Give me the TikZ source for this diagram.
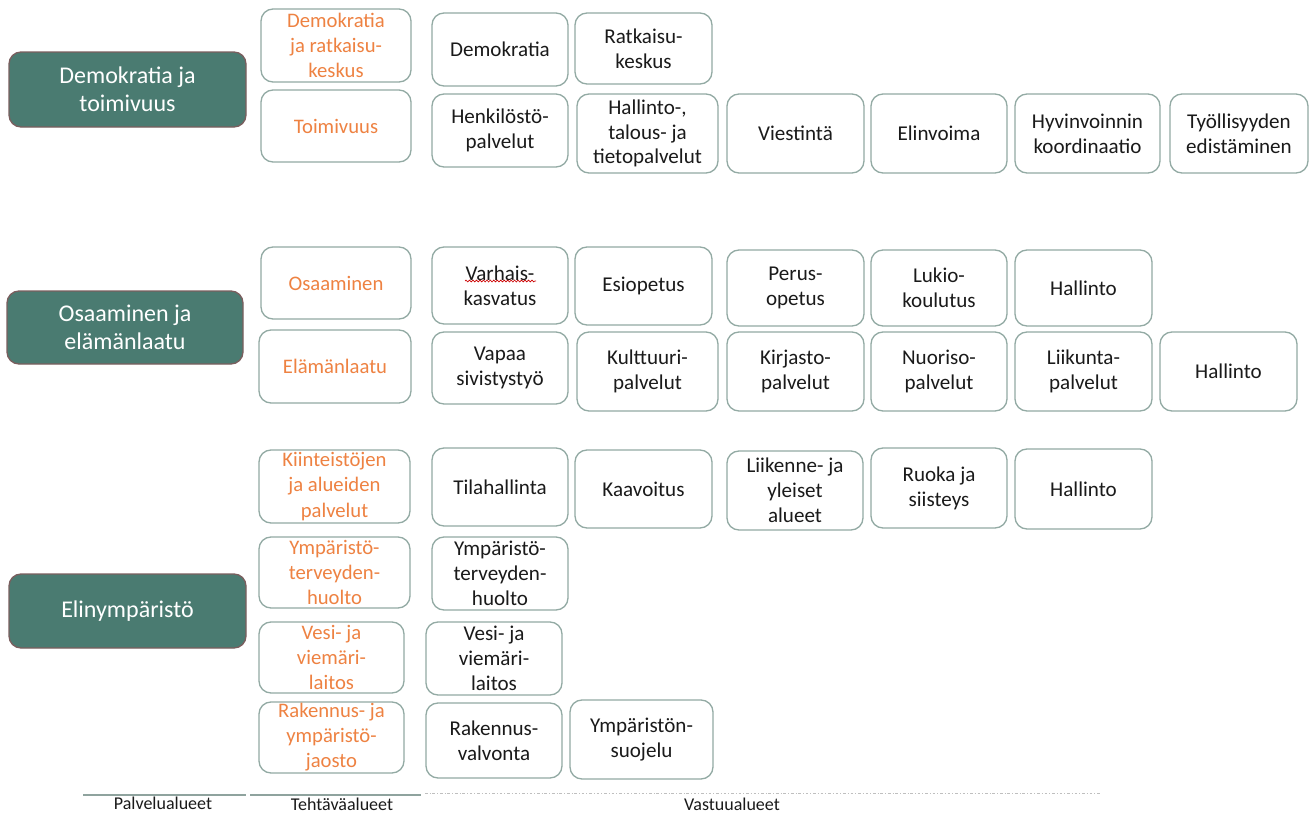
\documentclass[tikz,border=0pt]{standalone}
\usepackage{fontspec}
\setmainfont{Carlito}
\usetikzlibrary{decorations.pathmorphing}
\definecolor{dteal}{HTML}{4A7B71}
\definecolor{dborder}{HTML}{7A5E5E}
\definecolor{bline}{HTML}{93AAA4}
\definecolor{orng}{HTML}{EE8242}
\definecolor{ktext}{HTML}{1A1A1A}
\definecolor{axisline}{HTML}{8FA39E}
\tikzset{
  base/.style={rectangle, rounded corners=9pt, inner sep=0pt, outer sep=0pt},
  dbox/.style={base, fill=dteal, draw=dborder, line width=1pt},
  obox/.style={base, draw=bline, line width=1pt, fill=white},
  kbox/.style={base, draw=bline, line width=1pt, fill=white},
  dbox text/.style={text=white, font=\fontsize{18}{21}\selectfont, align=center, inner sep=0pt},
  obox text/.style={text=orng, font=\fontsize{15.5}{18.8}\selectfont, align=center, inner sep=0pt},
  kbox text/.style={text=ktext, font=\fontsize{15.8}{18.6}\selectfont, align=center, inner sep=0pt},
  axis label/.style={text=ktext, font=\fontsize{13.5}{16}\selectfont, inner sep=0pt},
  axis solid/.style={draw=axisline, line width=1pt},
  axis dotted/.style={draw=black!25, line width=0.6pt, dash pattern=on 2pt off 1.5pt on 0.6pt off 1.5pt},
}
\newcommand\bx[7]{%
  \pgfmathsetmacro\myBW{(#5-#3)*0.75}%
  \pgfmathsetmacro\myBH{(#6-#4)*0.75}%
  \node[#1, minimum width=\myBW pt, minimum height=\myBH pt] (#2) at ({(#3+#5)/2},{(#4+#6)/2}) {};
  \node[#1 text] (#2-t) at (#2.center) {#7};
}
\begin{document}
\begin{tikzpicture}[x=0.75pt,y=-0.75pt]
\fill[white] (0,0) rectangle (1315,814);
\useasboundingbox (0,0) rectangle (1315,814);

% Palvelualueet
\bx{dbox}{p1}{9}{52}{246}{127}{Demokratia ja\\toimivuus}
\bx{dbox}{p2}{7}{291}{243}{364}{Osaaminen ja\\elämänlaatu}
\bx{dbox}{p3}{9}{574}{246}{648}{Elinympäristö}

% Tehtäväalueet
\bx{obox}{t1}{261}{9}{411}{82}{Demokratia\\ja ratkaisu-\\keskus}
\bx{obox}{t2}{261}{90}{411}{162}{Toimivuus}
\bx{obox}{t3}{261}{247}{411}{319}{Osaaminen}
\bx{obox}{t4}{259}{330}{411}{403}{Elämänlaatu}
\bx{obox}{t5}{259}{450}{410}{523}{Kiinteistöjen\\ja alueiden\\palvelut}
\bx{obox}{t6}{259}{537}{410}{608}{Ympäristö-\\terveyden-\\huolto}
\bx{obox}{t7}{259}{622}{404}{693}{Vesi- ja\\viemäri-\\laitos}
\bx{obox}{t8}{259}{702}{404}{773}{Rakennus- ja\\ympäristö-\\jaosto}

% Vastuualueet
\bx{kbox}{v1}{432}{13}{568}{86}{Demokratia}
\bx{kbox}{v2}{575}{13}{712}{84}{Ratkaisu-\\keskus}
\bx{kbox}{v3}{432}{94}{568}{167}{Henkilöstö-\\palvelut}
\bx{kbox}{v4}{577}{94}{718}{173}{Hallinto-,\\talous- ja\\tietopalvelut}
\bx{kbox}{v5}{727}{94}{864}{173}{Viestintä}
\bx{kbox}{v6}{871}{94}{1007}{173}{Elinvoima}
\bx{kbox}{v7}{1015}{94}{1160}{173}{Hyvinvoinnin\\koordinaatio}
\bx{kbox}{v8}{1170}{94}{1308}{173}{Työllisyyden\\edistäminen}

\bx{kbox}{v9}{432}{247}{568}{324}{Varhais-\\kasvatus}
\bx{kbox}{v10}{575}{247}{712}{325}{Esiopetus}
\bx{kbox}{v11}{727}{250}{864}{326}{Perus-\\opetus}
\bx{kbox}{v12}{871}{250}{1007}{326}{Lukio-\\koulutus}
\bx{kbox}{v13}{1015}{250}{1152}{326}{Hallinto}
\bx{kbox}{v14}{432}{332}{568}{404}{Vapaa\\sivistystyö}
\bx{kbox}{v15}{577}{332}{718}{411}{Kulttuuri-\\palvelut}
\bx{kbox}{v16}{727}{332}{864}{411}{Kirjasto-\\palvelut}
\bx{kbox}{v17}{871}{332}{1007}{411}{Nuoriso-\\palvelut}
\bx{kbox}{v18}{1015}{332}{1152}{411}{Liikunta-\\palvelut}
\bx{kbox}{v19}{1160}{332}{1297}{411}{Hallinto}

\bx{kbox}{v20}{432}{448}{568}{526}{Tilahallinta}
\bx{kbox}{v21}{575}{450}{712}{528}{Kaavoitus}
\bx{kbox}{v22}{727}{451}{863}{530}{Liikenne- ja\\yleiset\\alueet}
\bx{kbox}{v23}{871}{448}{1007}{528}{Ruoka ja\\siisteys}
\bx{kbox}{v24}{1015}{449}{1152}{529}{Hallinto}
\bx{kbox}{v25}{432}{537}{568}{610}{Ympäristö-\\terveyden-\\huolto}
\bx{kbox}{v26}{426}{622}{562}{695}{Vesi- ja\\viemäri-\\laitos}
\bx{kbox}{v27}{426}{703}{562}{778}{Rakennus-\\valvonta}
\bx{kbox}{v28}{570}{700}{713}{779}{Ympäristön-\\suojelu}

% spell-check underline under "Varhais"
\coordinate (sq1) at (465,281);
\coordinate (sq2) at (536,281);
\draw[red!80!black, line width=0.5pt, decorate, decoration={snake, amplitude=0.7pt, segment length=2.6pt}] (sq1) -- (sq2);

% axis
\coordinate (a1) at (83,795);
\coordinate (a2) at (246,795);
\coordinate (b1) at (250,795);
\coordinate (b2) at (421,795);
\coordinate (c1) at (425,793);
\coordinate (c2) at (1100,793);
\draw[axis solid] (a1) -- (a2);
\draw[axis solid] (b1) -- (b2);
\draw[axis dotted] (c1) -- (c2);
\node[axis label] (l1) at (163,803) {Palvelualueet};
\node[axis label] (l2) at (342,804.5) {Tehtäväalueet};
\node[axis label] (l3) at (732,804.5) {Vastuualueet};
\end{tikzpicture}
\end{document}
